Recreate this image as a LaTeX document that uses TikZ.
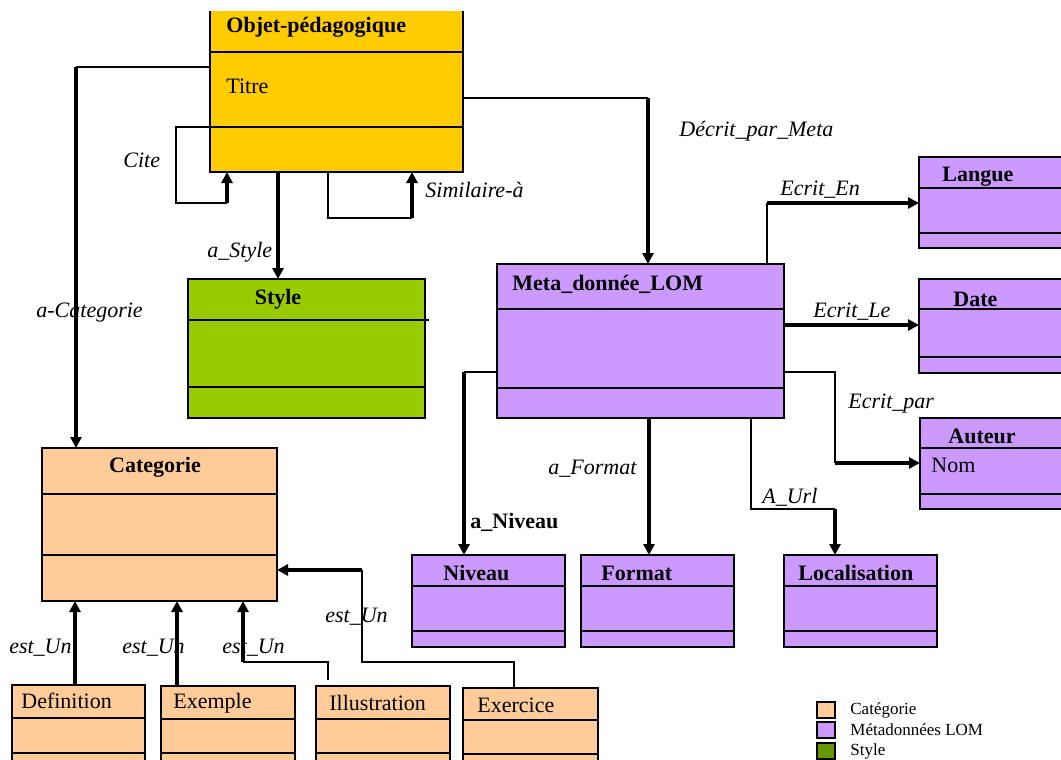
\documentclass[tikz,border=0pt]{standalone}
\usepackage{fontspec}
\setmainfont{Liberation Serif}
\usetikzlibrary{arrows.meta}

\definecolor{objyellow}{HTML}{FFCC00}
\definecolor{stylegreen}{HTML}{99CC00}
\definecolor{lompurple}{HTML}{CC99FF}
\definecolor{catpeach}{HTML}{FFCC99}
\definecolor{legendgreen}{HTML}{669900}

% A UML class: name, left, top, right, bottom, first divider, second divider, fill
\newcommand\umlclass[8]{%
  \node[classframe, fill=#8,
        minimum width={((#4)-(#2))*0.5pt},
        minimum height={((#5)-(#3))*0.5pt}] (#1) at (#2,#3) {};
  \draw[divider] (#2,#6) -- (#4,#6) (#2,#7) -- (#4,#7);
}

\begin{document}
\begin{tikzpicture}[x=0.5pt,y=-0.5pt,
  every node/.style={font=\fontsize{11}{13}\selectfont},
  classframe/.style={draw=black, line width=1pt, rectangle, inner sep=0pt,
                     outer sep=0pt, anchor=north west},
  divider/.style={line width=1pt},
  thin link/.style={line width=0.9pt},
  thick link/.style={line width=1.9pt, -{Triangle[length=5.5pt,width=5.5pt]}},
  title/.style={inner sep=0pt, anchor=west, font=\fontsize{11}{13}\selectfont\bfseries},
  attr/.style={inner sep=0pt, anchor=west},
  rel/.style={inner sep=0pt, anchor=west, font=\fontsize{11}{13}\selectfont\itshape},
  legbox/.style={draw=black, line width=1pt, rectangle, inner sep=0pt, outer sep=0pt,
                 minimum width=9pt, minimum height=8pt, anchor=north west},
  legtext/.style={inner sep=0pt, anchor=west, font=\fontsize{8.5}{10}\selectfont},
]
\useasboundingbox (0,0) rectangle (1061,760);
\fill[white] (0,0) rectangle (1061,760);

% ---- classes ----
% the top class is open along its upper edge
\node[classframe, draw=none, fill=objyellow, minimum width=126.5pt,
      minimum height=80.5pt] (obj) at (210,11) {};
\draw[divider] (obj.north west) -- (obj.south west) -- (obj.south east) -- (obj.north east);
\draw[divider] (210,52) -- (463,52) (210,127) -- (463,127);
\umlclass{sty}{188}{279}{425}{418}{320}{387}{stylegreen}
\draw[divider] (425,320) -- (429,320);
\umlclass{meta}{497}{264}{784}{418}{309}{388}{lompurple}
\umlclass{lang}{919}{157}{1075}{248}{188}{233}{lompurple}
\umlclass{date}{919}{279}{1075}{373}{309}{357}{lompurple}
\umlclass{aut}{920}{418}{1075}{509}{448}{494}{lompurple}
\umlclass{cat}{42}{448}{277}{601}{494}{555}{catpeach}
\umlclass{niv}{412}{555}{565}{647}{586}{631}{lompurple}
\umlclass{fmt}{581}{555}{734}{647}{586}{631}{lompurple}
\umlclass{loc}{784}{555}{937}{647}{586}{631}{lompurple}
\umlclass{defn}{12}{685}{145}{775}{718}{753}{catpeach}
\umlclass{exm}{161}{686}{295}{775}{719}{753}{catpeach}
\umlclass{ill}{316}{686}{450}{775}{719}{753}{catpeach}
\umlclass{exo}{463}{688}{598}{775}{720}{754}{catpeach}

% ---- class names and attributes ----
\node[title] (objname) at (226,27) {Objet-pédagogique};
\node[attr] (titre) at (226,86) {Titre};
\node[title, anchor=center] (styname) at (278,299) {Style};
\node[title] (metaname) at (512,284) {Meta\_donnée\_LOM};
\node[title] (langname) at (942,177) {Langue};
\node[title] (datename) at (953,299) {Date};
\node[title] (autname) at (948,436) {Auteur};
\node[attr] (nom) at (931,465) {Nom};
\node[title, anchor=center] (catname) at (155,467) {Categorie};
\node[title] (nivname) at (443,573) {Niveau};
\node[title] (fmtname) at (601,573) {Format};
\node[title] (locname) at (798,573) {Localisation};
\node[attr] (defname) at (21,701) {Definition};
\node[attr] (exmname) at (173,703) {Exemple};
\node[attr] (illname) at (329,703) {Illustration};
\node[attr] (exoname) at (477,705) {Exercice};

% ---- bend points ----
\coordinate (catbend) at (76,67);
\coordinate (citeA) at (176,127);
\coordinate (citeB) at (176,203);
\coordinate (citeC) at (227,203);
\coordinate (simA) at (328,218);
\coordinate (simB) at (412,218);
\coordinate (styx) at (278,230);
\coordinate (descbend) at (648,98);
\coordinate (enbend) at (767,203);
\coordinate (lept) at (784,325);
\coordinate (parA) at (835,372);
\coordinate (parB) at (835,463);
\coordinate (nivbend) at (464,372);
\coordinate (fmtx) at (649,480);
\coordinate (urlA) at (751,509);
\coordinate (urlB) at (835,509);
\coordinate (defx) at (75,650);
\coordinate (exmx) at (177,650);
\coordinate (illA) at (328,662);
\coordinate (illB) at (243,662);
\coordinate (exoA) at (514,662);
\coordinate (exoB) at (362,662);
\coordinate (exoC) at (362,570);

% ---- associations ----
\draw[thin link] (obj.west |- catbend) -- (catbend);
\draw[thick link] (catbend) -- (cat.north -| catbend);

\draw[thin link] (obj.west |- citeA) -- (citeA) -- (citeB) -- (citeC);
\draw[thick link] (citeC) -- (obj.south -| citeC);

\draw[thin link] (obj.south -| simA) -- (simA) -- (simB);
\draw[thick link] (simB) -- (obj.south -| simB);

\draw[thick link] (obj.south -| styx) -- (sty.north -| styx);

\draw[thin link] (obj.east |- descbend) -- (descbend);
\draw[thick link] (descbend) -- (meta.north -| descbend);

\draw[thin link] (meta.north -| enbend) -- (enbend);
\draw[thick link] (enbend) -- (lang.west |- enbend);

\draw[thick link] (meta.east |- lept) -- (date.west |- lept);

\draw[thin link] (meta.east |- parA) -- (parA) -- (parB);
\draw[thick link] (parB) -- (aut.west |- parB);

\draw[thin link] (meta.west |- nivbend) -- (nivbend);
\draw[thick link] (nivbend) -- (niv.north -| nivbend);

\draw[thick link] (meta.south -| fmtx) -- (fmt.north -| fmtx);

\draw[thin link] (meta.south -| urlA) -- (urlA) -- (urlB);
\draw[thick link] (urlB) -- (loc.north -| urlB);

% ---- generalisations towards Categorie ----
\draw[thick link] (defn.north -| defx) -- (cat.south -| defx);
\draw[thick link] (exm.north -| exmx) -- (cat.south -| exmx);
\draw[thin link] ([yshift=3pt]ill.north -| illA) -- (illA) -- (illB);
\draw[thick link] (illB) -- (cat.south -| illB);
\draw[thin link] (exo.north -| exoA) -- (exoA) -- (exoB) -- (exoC);
\draw[thick link] (exoC) -- (cat.east |- exoC);

% ---- association labels ----
\node[rel] (lcite) at (123,160) {Cite};
\node[rel] (lsim) at (425,190) {Similaire-à};
\node[rel] (lsty) at (207,252) {a\_Style};
\node[rel] (lcat) at (36,313) {a-Categorie};
\node[rel] (ldesc) at (679,131) {Décrit\_par\_Meta};
\node[rel] (len) at (780,190) {Ecrit\_En};
\node[rel] (lle) at (813,312) {Ecrit\_Le};
\node[rel] (lpar) at (848,404) {Ecrit\_par};
\node[rel] (lfmt) at (548,469) {a\_Format};
\node[rel] (lurl) at (762,497) {A\_Url};
\node[title] (lniv) at (470,522) {a\_Niveau};
\node[rel, anchor=east] (lest1) at (72,648) {est\_Un};
\node[rel] (lest2) at (122,648) {est\_Un};
\node[rel] (lest3) at (222,648) {est\_Un};
\node[rel] (lest4) at (325,617) {est\_Un};

% ---- legend ----
\node[legbox, fill=catpeach] (legcat) at (817,702) {};
\node[legbox, fill=lompurple] (leglom) at (817,722) {};
\node[legbox, fill=legendgreen] (legsty) at (817,743) {};
\node[legtext] (legcattxt) at (850,710) {Catégorie};
\node[legtext] (leglomtxt) at (850,730) {Métadonnées LOM};
\node[legtext] (legstytxt) at (850,751) {Style};
\end{tikzpicture}
\end{document}
